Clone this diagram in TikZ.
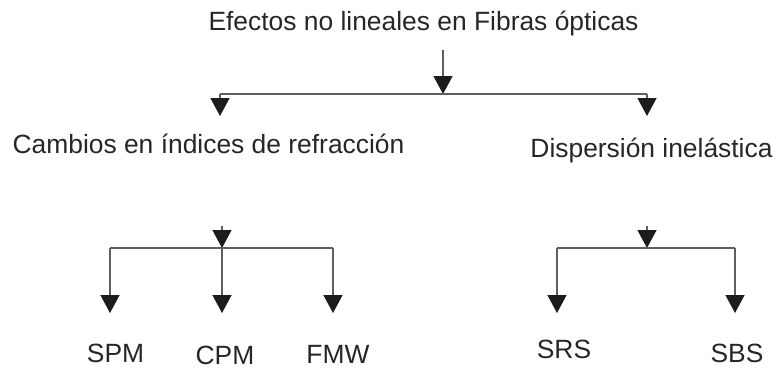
\documentclass[tikz,border=0pt]{standalone}
\usepackage{fontspec}
\setmainfont{Liberation Sans}
\usetikzlibrary{
  arrows.meta,
  positioning
}
\definecolor{linegray}{RGB}{95,95,95}
\definecolor{tipblack}{RGB}{28,28,28}
\definecolor{textgray}{RGB}{38,38,38}
\tikzset{
  lab/.style={anchor=base,inner sep=0pt,text=textgray,
    font=\fontsize{26.4}{30}\selectfont},
  leaf/.style={anchor=base,inner sep=0pt,text=textgray,
    font=\fontsize{26.4}{30}\selectfont},
  branch/.style={line width=1.4pt,draw=linegray},
  flow/.style={-{Triangle[length=18pt,width=19pt,color=tipblack]},
    line width=1.4pt,draw=linegray}
}

\begin{document}
\begin{tikzpicture}[x=1pt,y=-1pt]
  \useasboundingbox (0,0) rectangle (776,369);

  \node[lab] (title) at (423.5,31) {Efectos no lineales en Fibras ópticas};
  \node[lab] (refr) at (208.5,153) {Cambios en índices de refracción};
  \node[lab] (disp) at (651.5,157) {Dispersión inelástica};

  \node[leaf] (spm) at (115.5,362) {SPM};
  \node[leaf] (cpm) at (225,364) {CPM};
  \node[leaf] (fmw) at (338,363) {FMW};
  \node[leaf] (srs) at (564,358) {SRS};
  \node[leaf] (sbs) at (737,362) {SBS};

  % top level
  \coordinate (tsrc) at (443,50);
  \coordinate (tjoin) at (443,94);
  \coordinate (tleft) at (220,94);
  \coordinate (tright) at (647,94);
  \coordinate (tlefttip) at (220,116);
  \coordinate (trighttip) at (647,116);
  \draw[flow] (tsrc) -- (tjoin);
  \draw[branch] (tleft) -- (tright);
  \draw[flow] (tleft) -- (tlefttip);
  \draw[flow] (tright) -- (trighttip);

  % refraction branch
  \coordinate (lsrc) at (222,226);
  \coordinate (ljoin) at (222,248);
  \coordinate (lleft) at (110,248);
  \coordinate (lright) at (333,248);
  \draw[flow] (lsrc) -- (ljoin);
  \draw[branch] (lleft) -- (lright);
  \draw[flow] (lleft) -- (lleft |- 0,313);
  \draw[flow] (ljoin) -- (ljoin |- 0,313);
  \draw[flow] (lright) -- (lright |- 0,313);

  % scattering branch
  \coordinate (rsrc) at (647,226);
  \coordinate (rjoin) at (647,248);
  \coordinate (rleft) at (557,248);
  \coordinate (rright) at (735,248);
  \draw[flow] (rsrc) -- (rjoin);
  \draw[branch] (rleft) -- (rright);
  \draw[flow] (rleft) -- (rleft |- 0,313);
  \draw[flow] (rright) -- (rright |- 0,313);
\end{tikzpicture}
\end{document}
